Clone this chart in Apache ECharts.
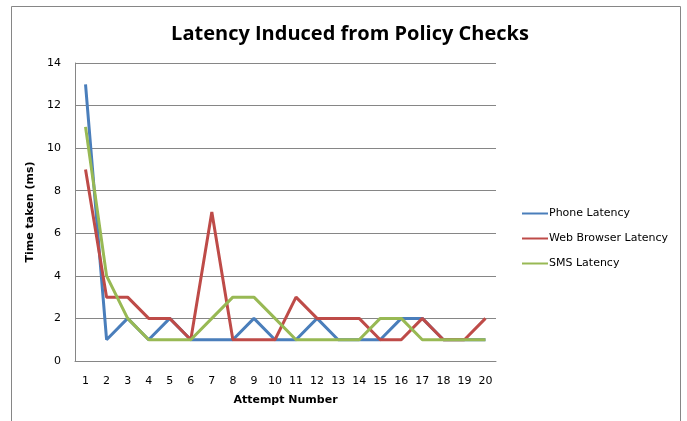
<!DOCTYPE html>
<html>
<head>
<meta charset="utf-8">
<script src="https://cdn.jsdelivr.net/npm/echarts@6/dist/echarts.min.js"></script>
<style>
  html, body { margin: 0; padding: 0; background: #fff; }
  #chart { width: 687px; height: 421px; }
</style>
</head>
<body>
<div id="chart"></div>
<script>
const attempts = ["1","2","3","4","5","6","7","8","9","10","11","12","13","14","15","16","17","18","19","20"];
const phoneLatency = [13, 1, 2, 1, 2, 1, 1, 1, 2, 1, 1, 2, 1, 1, 1, 2, 2, 1, 1, 1];
const webLatency = [9, 3, 3, 2, 2, 1, 7, 1, 1, 1, 3, 2, 2, 2, 1, 1, 2, 1, 1, 2];
const smsLatency = [11, 4, 2, 1, 1, 1, 2, 3, 3, 2, 1, 1, 1, 1, 2, 2, 1, 1, 1, 1];

const chart = echarts.init(document.getElementById("chart"));

// excel-ish line series
function mkSeries(name, data, color) {
  return {
    name: name,
    type: "line",
    data: data,
    symbol: "none",
    lineStyle: { width: 3, color: color },
    itemStyle: { color: color },
    animation: false
  };
}

chart.setOption({
  animation: false,
  title: {
    text: "Latency Induced from Policy Checks",
    left: 345,
    top: 19,
    textAlign: "center",
    textStyle: { fontFamily: "Open Sans", fontSize: 20, fontWeight: "bold", color: "#000" }
  },
  graphic: [{
    type: "rect",
    shape: { x: 11.5, y: 6.5, width: 669, height: 430 },
    style: { fill: "none", stroke: "#868686", lineWidth: 1 },
    silent: true
  }],
  legend: {
    orient: "vertical",
    left: 517,
    top: 203,
    itemGap: 14,
    itemWidth: 26,
    itemHeight: 14,
    icon: "path://M0,6 L26,6 L26,8 L0,8 Z",
    textStyle: { fontFamily: "DejaVu Sans", fontSize: 11, color: "#000", padding: [0, 0, 0, -4] },
    data: ["Phone Latency", "Web Browser Latency", "SMS Latency"]
  },
  grid: { left: 75, top: 63, width: 421, height: 298 },
  xAxis: {
    type: "category",
    data: attempts,
    boundaryGap: true,
    name: "Attempt Number",
    nameLocation: "middle",
    nameGap: 34,
    nameTextStyle: { fontFamily: "DejaVu Sans", fontSize: 11, fontWeight: "bold", color: "#000" },
    axisLine: { lineStyle: { color: "#868686", width: 1 } },
    axisTick: { show: false },
    axisLabel: { fontFamily: "DejaVu Sans", fontSize: 11, color: "#000", margin: 15, interval: 0 }
  },
  yAxis: {
    type: "value",
    min: 0,
    max: 14,
    interval: 2,
    name: "Time taken (ms)",
    nameLocation: "middle",
    nameGap: 38,
    nameTextStyle: { fontFamily: "DejaVu Sans", fontSize: 11, fontWeight: "bold", color: "#000" },
    axisLine: { show: true, lineStyle: { color: "#868686", width: 1 } },
    axisTick: { show: false },
    axisLabel: { fontFamily: "DejaVu Sans", fontSize: 11, color: "#000", margin: 14 },
    splitLine: { lineStyle: { color: "#868686", width: 1 } }
  },
  series: [
    mkSeries("Phone Latency", phoneLatency, "#4a7ebb"),
    mkSeries("Web Browser Latency", webLatency, "#be4b48"),
    mkSeries("SMS Latency", smsLatency, "#98b954")
  ]
});
</script>
</body>
</html>
